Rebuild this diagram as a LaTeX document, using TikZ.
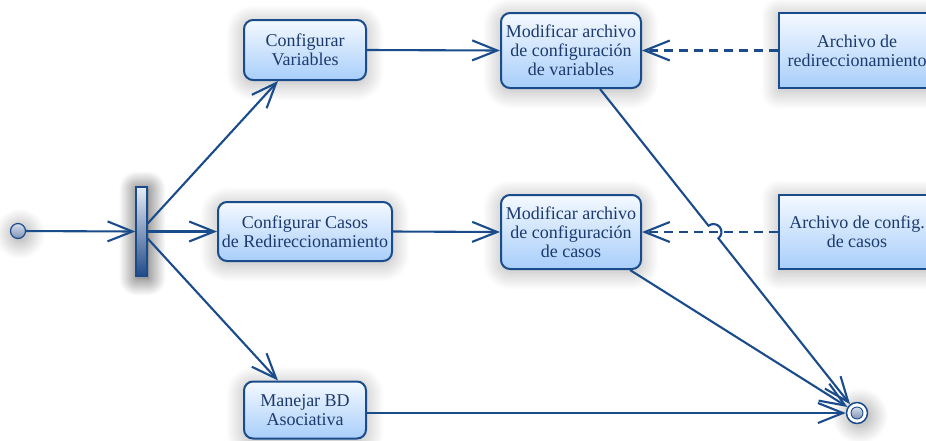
\documentclass[tikz,border=0pt]{standalone}
\usepackage{fontspec}
\setmainfont{Liberation Serif}
\usetikzlibrary{arrows.meta,shadows.blur,calc}

\definecolor{edgeblue}{RGB}{26,76,140}
\definecolor{txtblue}{RGB}{28,58,110}
\definecolor{boxtop}{RGB}{244,249,255}
\definecolor{boxbot}{RGB}{168,206,250}
\definecolor{bartop}{RGB}{230,236,245}
\definecolor{barbot}{RGB}{34,74,136}
\definecolor{dottop}{RGB}{214,222,236}
\definecolor{dotbot}{RGB}{128,146,182}

\tikzset{
  glow/.style={blur shadow={shadow xshift=0pt, shadow yshift=-3pt,
      shadow blur radius=18pt, shadow blur steps=40, shadow opacity=32}},
  base/.style={draw=edgeblue, line width=2pt, top color=boxtop,
      bottom color=boxbot, text=txtblue, align=center, inner sep=0pt,
      font=\fontsize{18}{19}\selectfont, glow},
  act/.style={base, rounded corners=9pt},
  obj/.style={base},
  forkbar/.style={draw=edgeblue, line width=1.3pt, top color=bartop,
      bottom color=barbot, minimum width=11pt, minimum height=89pt,
      inner sep=0pt,
      blur shadow={shadow xshift=1pt, shadow yshift=-2pt,
      shadow blur radius=18pt, shadow blur steps=40, shadow opacity=75}},
  startdot/.style={circle, draw=edgeblue, line width=1.2pt, top color=dottop,
      bottom color=dotbot, minimum size=15pt, inner sep=0pt,
      blur shadow={shadow xshift=2pt, shadow yshift=-3pt,
      shadow blur radius=18pt, shadow blur steps=40, shadow opacity=40}},
  enddot/.style={circle, draw=edgeblue, line width=1.5pt, fill=white,
      minimum size=21pt, inner sep=0pt,
      blur shadow={shadow xshift=3pt, shadow yshift=-3pt,
      shadow blur radius=18pt, shadow blur steps=40, shadow opacity=40}},
  endcore/.style={circle, draw=edgeblue, line width=0.9pt, top color=dottop,
      bottom color=dotbot, minimum size=12pt, inner sep=0pt},
  flow/.style={draw=edgeblue, line width=2.1pt,
      -{Straight Barb[length=25pt,width=20pt]}},
  dep/.style={flow, dash pattern=on 9pt off 6pt},
}

\begin{document}
\begin{tikzpicture}[x=1pt,y=-1pt]
\useasboundingbox (0,0) rectangle (926,440);

% nodes
\node[startdot] (ini) at (18,231) {};
\node[forkbar] (fork) at (141.5,231.5) {};

\node[act, minimum width=122pt, minimum height=60pt] (cv) at (305,50)
  {Configurar\\Variables};
\node[act, minimum width=174pt, minimum height=59pt] (cc) at (305,231.5)
  {Configurar Casos\\de Redireccionamiento};
\node[act, minimum width=122pt, minimum height=57pt] (bd) at (305,410)
  {Manejar BD\\Asociativa};

\node[act, minimum width=140pt, minimum height=75pt] (mv) at (571,50.5)
  {Modificar archivo\\de configuración\\de variables};
\node[act, minimum width=140pt, minimum height=74pt] (mc) at (571,232)
  {Modificar archivo\\de configuración\\de casos};

\node[obj, minimum width=156pt, minimum height=75pt] (ar) at (857,50.5)
  {Archivo de\\redireccionamiento};
\node[obj, minimum width=156pt, minimum height=74pt] (ac) at (857,232)
  {Archivo de config.\\de casos};

\node[enddot] (fin) at (857,413) {};
\node[endcore] at (fin) {};

% control flow
\draw[flow] (ini) -- (fork.west);
\draw[flow] ($(fork.east)+(0,-8)$) -- ($(cv.south)+(-27,0)$);
\draw[flow] (fork.east) -- (cc.west);
\draw[flow] ($(fork.east)+(0,7)$) -- ($(bd.north)+(-27,0)$);

\draw[flow] (cv.east) -- (mv.west);
\draw[flow] (cc.east) -- (mc.west);

\draw[dep] (ar.west) -- (mv.east);
\draw[dep] (ac.west) -- (mc.east);

% flow from the variables file, hopping over the dashed line
\coordinate (vs) at ($(mv.south)+(29,0)$);
\coordinate (hx) at (intersection of vs--fin and ac.west--mc.east);
\coordinate (hs) at ($(hx)!8pt!(vs)$);
\draw[flow] (vs) -- (hs) arc[start angle=231.7, end angle=411.7, radius=8] -- (fin);

\draw[flow] ($(mc.south)+(59,0)$) -- (fin);
\draw[flow] (bd.east |- fin) -- (fin);
\end{tikzpicture}
\end{document}
